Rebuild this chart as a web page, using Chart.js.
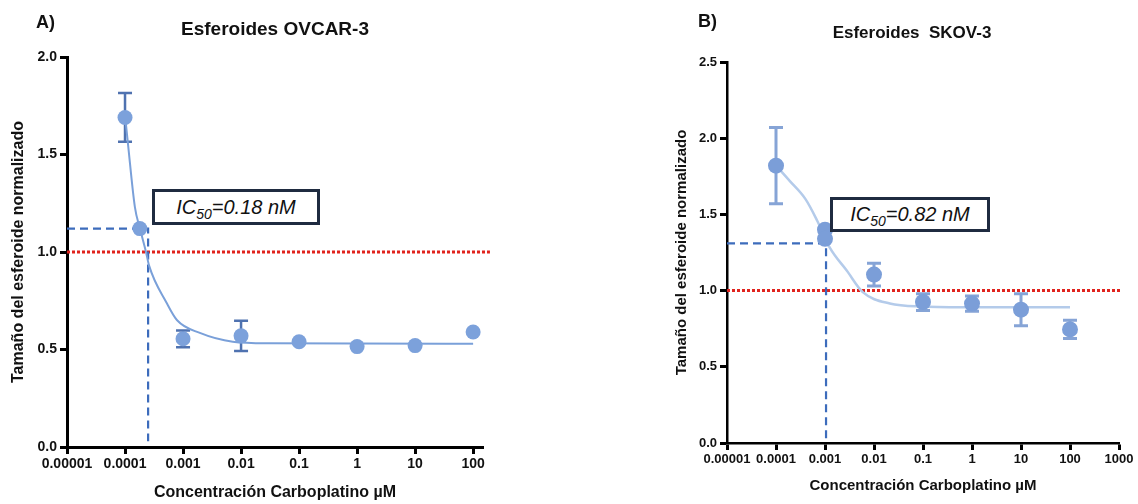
<!DOCTYPE html>
<html>
<head>
<meta charset="utf-8">
<script src="https://cdn.jsdelivr.net/npm/chart.js@4.4.1/dist/chart.umd.min.js"></script>
<style>
    body { margin: 0; background: #fff; font-family: "Liberation Sans", Arial, sans-serif; }
    #wrap { position: relative; width: 1138px; height: 504px; overflow: hidden; }
    canvas { position: absolute; top: 0; }
    #chartA { left: 0; }
    #chartB { left: 560px; }
    .lbl { position: absolute; font-weight: bold; color: #111; white-space: nowrap; line-height: 1; }
    .ic { position: absolute; border: 3px solid #1f2b40; box-sizing: border-box; background: #fff;
          font-style: italic; font-size: 20px; color: #111; display: flex; align-items: center; justify-content: center; }
    .ic sub { font-size: 14px; position: relative; top: 5px; vertical-align: baseline; line-height: 1; }
</style>
</head>
<body>
<div id="wrap">
    <canvas id="chartA" width="560" height="504"></canvas>
    <canvas id="chartB" width="578" height="504"></canvas>
    <div class="lbl" style="left:36px; top:13px; font-size:18px;">A)</div>
    <div class="lbl" style="left:275px; top:19px; font-size:19px; transform:translateX(-50%);">Esferoides OVCAR-3</div>
    <div class="lbl" style="left:698px; top:12px; font-size:18px;">B)</div>
    <div class="lbl" style="left:912px; top:24px; font-size:17px; transform:translateX(-50%);">Esferoides&nbsp; SKOV-3</div>
    <div class="ic" style="left:152px; top:189px; width:168px; height:36px;"><span>IC<sub>50</sub>=0.18 nM</span></div>
    <div class="ic" style="left:830px; top:197px; width:160px; height:35px;"><span>IC<sub>50</sub>=0.82 nM</span></div>
</div>
<script>
// ejes
const xTicks = [0.00001, 0.0001, 0.001, 0.01, 0.1, 1, 10, 100, 1000];
const xTickLabels = ['0.00001', '0.0001', '0.001', '0.01', '0.1', '1', '10', '100', '1000'];
const yTicksA = [0, 0.5, 1, 1.5, 2];
const yTicksB = [0, 0.5, 1, 1.5, 2, 2.5];

// OVCAR-3
const concA = [0.0001, 0.00018, 0.001, 0.01, 0.1, 1, 10, 100];
const meanA = [1.69, 1.12, 0.555, 0.57, 0.54, 0.515, 0.52, 0.59];
const semA = [0.125, 0, 0.043, 0.078, 0, 0, 0, 0];
const fitXA = [0.0001, 0.000112, 0.000148, 0.000181, 0.00023, 0.00026, 0.00052, 0.00079, 0.00195, 0.0072, 0.03, 100];
const fitYA = [1.70, 1.56, 1.23, 1.12, 1.0, 0.93, 0.74, 0.65, 0.585, 0.54, 0.532, 0.53];
const ic50A = { x: 0.00025, y: 1.12 };

// SKOV-3
const concB = [0.0001, 0.001, 0.001, 0.01, 0.1, 1, 10, 100];
const meanB = [1.82, 1.40, 1.34, 1.105, 0.925, 0.915, 0.875, 0.745];
const semB = [0.25, 0, 0, 0.075, 0.055, 0.05, 0.105, 0.06];
const fitXB = [0.0001, 0.00019, 0.0004, 0.00069, 0.00126, 0.0028, 0.0059, 0.021, 0.1, 1, 100];
const fitYB = [1.82, 1.72, 1.60, 1.46, 1.28, 1.13, 0.99, 0.915, 0.895, 0.89, 0.89];
const ic50B = { x: 0.00105, y: 1.31 };

const fontFam = '"Liberation Sans", Arial, sans-serif';

// barras de error (SEM) dibujadas con las escalas del grafico
const errorBars = {
    id: 'errorBars',
    beforeDatasetsDraw(chart, args, opts) {
        const { ctx, scales: { x, y } } = chart;
        const pts = chart.data.datasets[0].data;
        ctx.save();
        ctx.strokeStyle = opts.color;
        ctx.lineWidth = opts.width;
        pts.forEach((p, i) => {
            const e = opts.sem[i];
            if (!e) return;
            const px = x.getPixelForValue(p.x);
            const top = y.getPixelForValue(p.y + e);
            const bot = y.getPixelForValue(p.y - e);
            ctx.beginPath();
            ctx.moveTo(px, top); ctx.lineTo(px, bot);
            ctx.moveTo(px - opts.cap, top); ctx.lineTo(px + opts.cap, top);
            ctx.moveTo(px - opts.cap, bot); ctx.lineTo(px + opts.cap, bot);
            ctx.stroke();
        });
        ctx.restore();
    }
};

function makeChart(id, c) {
    return new Chart(document.getElementById(id), {
        type: 'scatter',
        data: {
            datasets: [{
                data: c.conc.map((v, i) => ({ x: v, y: c.mean[i] })),
                backgroundColor: c.pointColor,
                borderWidth: 0,
                pointRadius: c.radius,
                order: 0
            }, {
                data: c.fitX.map((v, i) => ({ x: v, y: c.fitY[i] })),
                showLine: true,
                pointRadius: 0,
                borderColor: c.curveColor,
                borderWidth: c.curveWidth,
                cubicInterpolationMode: 'monotone',
                order: 1
            }, {
                data: [{ x: 0.00001, y: c.ic50.y }, { x: c.ic50.x, y: c.ic50.y }, { x: c.ic50.x, y: 0.03 }],
                showLine: true,
                pointRadius: 0,
                borderColor: '#3d6cbc',
                borderWidth: 2.2,
                borderDash: [8, 5],
                order: 2
            }, {
                data: [{ x: 0.00001, y: 1 }, { x: c.redEnd, y: 1 }],
                showLine: true,
                pointRadius: 0,
                borderColor: '#e0231d',
                borderWidth: 3,
                borderDash: [3, 2],
                clip: false,
                order: 3
            }]
        },
        options: {
            responsive: false,
            animation: false,
            events: [],
            layout: { padding: c.padding },
            plugins: {
                legend: { display: false },
                tooltip: { enabled: false },
                errorBars: { sem: c.sem, color: c.barColor, width: c.barWidth, cap: c.cap }
            },
            scales: {
                x: {
                    type: 'logarithmic',
                    min: 0.00001,
                    max: c.xMax,
                    afterBuildTicks: s => { s.ticks = c.xTicks.map(v => ({ value: v })); },
                    afterFit: s => { s.height = c.xHeight; },
                    ticks: {
                        autoSkip: false, maxRotation: 0, padding: 2, color: '#111',
                        font: { family: fontFam, size: c.tickSize, weight: 'bold' },
                        callback: (v, i) => xTickLabels[i]
                    },
                    grid: { drawOnChartArea: false, tickLength: 7, tickWidth: 3, tickColor: '#000' },
                    border: { color: '#000', width: c.axisWidth },
                    title: {
                        display: true, text: 'Concentración Carboplatino µM', color: '#111',
                        font: { family: fontFam, size: c.xTitleSize, weight: 'bold' },
                        padding: { top: 0, bottom: c.xTitlePad }
                    }
                },
                y: {
                    min: 0,
                    max: c.yMax,
                    afterBuildTicks: s => { s.ticks = c.yTicks.map(v => ({ value: v })); },
                    afterFit: s => { s.width = c.yWidth; },
                    ticks: {
                        padding: 3, color: '#111',
                        font: { family: fontFam, size: c.tickSize, weight: 'bold' },
                        callback: v => v.toFixed(1)
                    },
                    grid: { drawOnChartArea: false, tickLength: 7, tickWidth: 3, tickColor: '#000' },
                    border: { color: '#000', width: c.axisWidth },
                    title: {
                        display: true, text: 'Tamaño del esferoide normalizado', color: '#111',
                        font: { family: fontFam, size: c.yTitleSize, weight: 'bold' },
                        padding: { top: c.yTitlePad, bottom: 0 }
                    }
                }
            }
        },
        plugins: [errorBars]
    });
}

makeChart('chartA', {
    conc: concA, mean: meanA, sem: semA, fitX: fitXA, fitY: fitYA, ic50: ic50A,
    xTicks: xTicks.slice(0, 8), yTicks: yTicksA, xMax: 148, yMax: 2, redEnd: 195,
    padding: { left: 0, top: 57, right: 77, bottom: 0 }, yWidth: 67, xHeight: 57,
    pointColor: '#7ca1db', radius: 7.5, curveColor: '#7aa0d9', curveWidth: 2,
    barColor: '#4f72b0', barWidth: 2.5, cap: 7, axisWidth: 3,
    tickSize: 14, xTitleSize: 16, xTitlePad: 2, yTitleSize: 16, yTitlePad: 9
});

makeChart('chartB', {
    conc: concB, mean: meanB, sem: semB, fitX: fitXB, fitY: fitYB, ic50: ic50B,
    xTicks: xTicks, yTicks: yTicksB, xMax: 1000, yMax: 2.5, redEnd: 1080,
    padding: { left: 100, top: 62, right: 19, bottom: 0 }, yWidth: 67, xHeight: 61,
    pointColor: '#7b9ed8', radius: 8, curveColor: '#b4cbea', curveWidth: 2.5,
    barColor: '#86a4d6', barWidth: 3, cap: 7, axisWidth: 2.5,
    tickSize: 13, xTitleSize: 15, xTitlePad: 9, yTitleSize: 15, yTitlePad: 13
});
</script>
</body>
</html>
